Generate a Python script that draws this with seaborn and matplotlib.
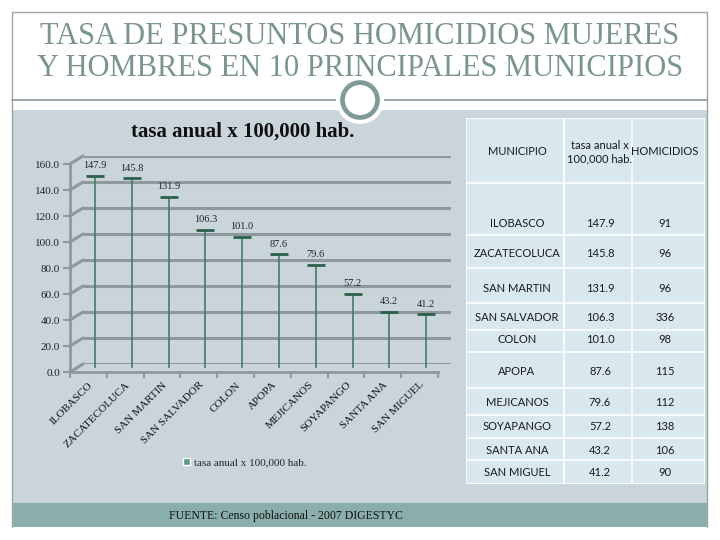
import numpy as np
import pandas as pd
import matplotlib
matplotlib.use("Agg")
import matplotlib.pyplot as plt
from matplotlib.patches import Rectangle, Circle, Patch, ConnectionPatch
from matplotlib.lines import Line2D
import seaborn as sns

# Data
municipios = ['ILOBASCO', 'ZACATECOLUCA', 'SAN MARTIN', 'SAN SALVADOR', 'COLON',
              'APOPA', 'MEJICANOS', 'SOYAPANGO', 'SANTA ANA', 'SAN MIGUEL']
tasa = [147.9, 145.8, 131.9, 106.3, 101.0, 87.6, 79.6, 57.2, 43.2, 41.2]
homicidios = [91, 96, 96, 336, 98, 115, 112, 138, 106, 90]
y_ticks = [0, 20, 40, 60, 80, 100, 120, 140, 160]
serie = 'tasa anual x 100,000 hab.'

df = pd.DataFrame({'municipio': municipios, 'tasa': tasa})

sns.set_theme(style='white')
plt.rcParams['font.family'] = ['Liberation Serif', 'DejaVu Serif']

W, H = 720, 540
fig = plt.figure(figsize=(7.2, 5.4), dpi=100)
fig.patch.set_facecolor('white')


def box(l, t, r, b):
    # pixel box (from top-left) -> figure rect
    return [l / W, 1 - b / H, (r - l) / W, (b - t) / H]


def frect(l, t, r, b, color, z=-3):
    fig.add_artist(Rectangle((l / W, 1 - b / H), (r - l) / W, (b - t) / H,
                             transform=fig.transFigure, facecolor=color,
                             edgecolor='none', zorder=z))


def fline(x0, y0, x1, y1, color, lw=1.0, z=-2):
    fig.add_artist(Line2D([x0 / W, x1 / W], [1 - y0 / H, 1 - y1 / H],
                          transform=fig.transFigure, color=color, lw=lw, zorder=z))


# Slide background
frect(12, 110, 707, 503, '#c9d5db')
frect(12, 503, 707, 527, '#8aaeac')
frame_c = '#9aa6a6'
fline(12, 12, 707, 12, frame_c)
fline(12, 12, 12, 527, frame_c)
fline(707, 12, 707, 527, frame_c)
fline(12, 100, 707, 100, '#8c9a98', lw=1.2)

# Decorative ring
fig.add_artist(Circle((3.6, 5.4 - 1.0), 0.24, transform=fig.dpi_scale_trans,
                      facecolor='white', edgecolor='none', zorder=-1))
fig.add_artist(Circle((3.6, 5.4 - 1.0), 0.175, transform=fig.dpi_scale_trans,
                      facecolor='white', edgecolor='#7f9b98', lw=3.4, zorder=-1))

# Slide title
title_c = '#7a9591'
fig.text(360 / W, 1 - 36 / H, 'TASA DE PRESUNTOS HOMICIDIOS MUJERES',
         ha='center', va='center', fontsize=22, color=title_c)
fig.text(360 / W, 1 - 69 / H, 'Y HOMBRES EN 10 PRINCIPALES MUNICIPIOS',
         ha='center', va='center', fontsize=22, color=title_c)

# Chart: back wall, data plane, front axes (pseudo 3D)
grid_c = '#8e999e'
ax_b = fig.add_axes(box(83, 156, 451, 364))
ax = fig.add_axes(box(76.5, 160, 444.5, 368))
ax_f = fig.add_axes(box(70, 164, 438, 372))
for a in (ax_b, ax, ax_f):
    a.set_facecolor('none')
    a.set_xlim(-0.5, len(municipios) - 0.5)
    a.set_ylim(0, 160)

ax_b.hlines(y_ticks, -0.5, len(municipios) - 0.5, color=grid_c, lw=2.2)
ax_b.axis('off')
for v in y_ticks:
    fig.add_artist(ConnectionPatch(xyA=(-0.5, v), coordsA=ax_f.transData,
                                   xyB=(-0.5, v), coordsB=ax_b.transData,
                                   color=grid_c, lw=2.2))

# data marks
ax.vlines(np.arange(len(tasa)), 0, tasa, color='#3f7f63', lw=1.2, zorder=1)
sns.scatterplot(data=df, x='municipio', y='tasa', ax=ax, marker='_', s=170,
                linewidth=2.0, color='#2a6249', legend=False, zorder=2)
for i, v in enumerate(tasa):
    ax.annotate(f'{v:.1f}', (i, v), xytext=(0, 4), textcoords='offset points',
                ha='center', va='bottom', fontsize=7.5, color='#222222')
ax.set_xlim(-0.5, len(municipios) - 0.5)
ax.axis('off')

# front axes
for s in ('top', 'right'):
    ax_f.spines[s].set_visible(False)
for s in ('left', 'bottom'):
    ax_f.spines[s].set_color(grid_c)
    ax_f.spines[s].set_linewidth(2)
ax_f.set_yticks(y_ticks)
ax_f.set_yticklabels([f'{v:.1f}' for v in y_ticks])
ax_f.set_xticks(range(len(municipios)))
ax_f.set_xticklabels(municipios, rotation=45, ha='right', rotation_mode='anchor')
ax_f.set_xticks(np.arange(-0.5, len(municipios), 1), minor=True)
ax_f.tick_params(axis='y', left=True, length=5, width=1.5, color=grid_c,
                 labelsize=8, pad=2, labelcolor='#222222')
ax_f.tick_params(axis='x', which='major', bottom=True, length=0, labelsize=8,
                 pad=6, labelcolor='#111111')
ax_f.tick_params(axis='x', which='minor', bottom=True, length=4, width=1.5,
                 color=grid_c)

fig.text(243 / W, 1 - 132 / H, serie, ha='center', va='center',
         fontsize=15, fontweight='bold', color='#111111')

fig.legend(handles=[Patch(facecolor='#5c9b80', label=serie)], loc='center',
           bbox_to_anchor=(245 / W, 1 - 463 / H), frameon=False, fontsize=8,
           handlelength=0.6, handleheight=0.6, handletextpad=0.4)

# Table on the right
ax_t = fig.add_axes(box(466, 118, 705, 484))
ax_t.set_xlim(466, 705)
ax_t.set_ylim(484, 118)
ax_t.axis('off')
ax_t.add_patch(Rectangle((0, 0), 1, 1, transform=ax_t.transAxes,
                         facecolor='#d9e8ef', edgecolor='white', lw=1.2))
row_edges = [183, 235, 268, 303, 330, 352, 388, 415, 438, 460]
ax_t.hlines(row_edges, 466, 705, color='white', lw=1.2)
ax_t.vlines([564, 632], 118, 484, color='white', lw=1.2)
col_x = [517, 600, 665]
row_y = [224, 254, 289, 318, 340, 372, 402, 427, 450, 473]
tfont = dict(family=['Lato', 'DejaVu Sans'], fontsize=8, color='#1a1a1a',
             ha='center', va='center')
ax_t.text(col_x[0], 152, 'MUNICIPIO', **tfont)
ax_t.text(col_x[1], 152, 'tasa anual x\n100,000 hab.', linespacing=1.3, **tfont)
ax_t.text(col_x[2], 152, 'HOMICIDIOS', **tfont)
for m, t, h, y in zip(municipios, tasa, homicidios, row_y):
    ax_t.text(col_x[0], y, m, **tfont)
    ax_t.text(col_x[1], y, f'{t:.1f}', **tfont)
    ax_t.text(col_x[2], y, str(h), **tfont)

# Footer
fig.text(286 / W, 1 - 516 / H, 'FUENTE: Censo poblacional - 2007 DIGESTYC',
         ha='center', va='center', fontsize=8.5, color='#111111')

fig.savefig('out.png', dpi=100)
